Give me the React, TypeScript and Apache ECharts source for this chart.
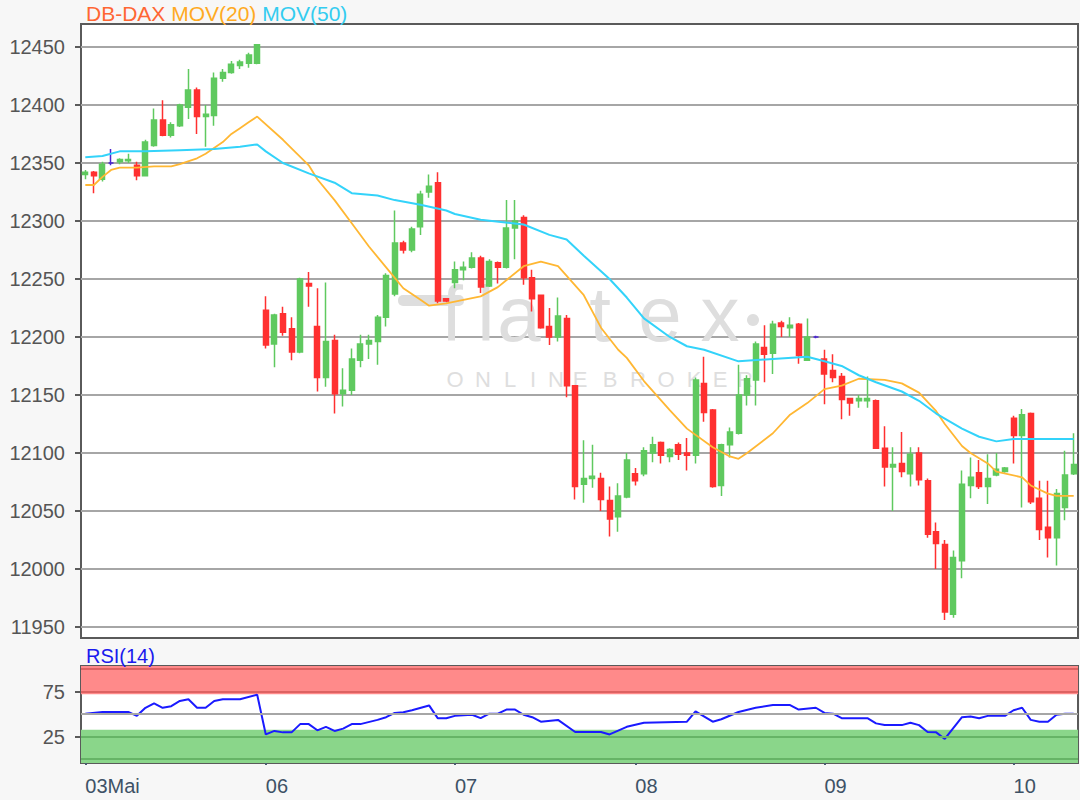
import React, { useEffect, useRef } from 'react';
import * as echarts from 'echarts';

// ---- categories (days, candles per day) ----
const dayLabels = ['03Mai', '06', '07', '08', '09', '10'];
const dayCounts = [21, 22, 21, 22, 22, 8];

// ---- OHLC ----
const opens = [
  12340, 12342, 12336, 12350, 12351, 12352, 12348, 12339, 12365, 12387, 12374, 12382, 12398, 12413, 12390, 12391, 12423, 12428, 12434, 12436, 12436,
  12223, 12194, 12220, 12207, 12187, 12246, 12209, 12165, 12197, 12151, 12154, 12180, 12194, 12196, 12217, 12237, 12281, 12275, 12295, 12325, 12333, 12233,
  12247, 12258, 12260, 12268, 12244, 12264, 12260, 12294, 12303, 12251, 12236, 12209, 12200, 12216, 12158, 12073, 12078, 12078, 12059, 12045, 12062,
  12082, 12082, 12100, 12109, 12097, 12107, 12100, 12098, 12160, 12137, 12072, 12107, 12117, 12150, 12163, 12191, 12186, 12212, 12208, 12211, 12180, 12200,
  12181, 12171, 12166, 12147, 12145, 12145, 12145, 12104, 12088, 12091, 12082, 12100, 12076, 12032, 12021, 11961, 12007, 12072, 12083, 12071, 12081, 12084,
  12130, 12115, 12134, 12061, 12036, 12027, 12053, 12082,
];
const closes = [
  12342, 12339, 12349, 12350, 12353, 12353, 12339, 12368, 12387, 12374, 12383, 12400, 12413, 12390, 12392, 12423, 12428, 12435, 12437, 12443, 12452,
  12193, 12219, 12204, 12187, 12250, 12244, 12165, 12196, 12151, 12154, 12181, 12194, 12197, 12217, 12253, 12281, 12275, 12293, 12323, 12330, 12231, 12231,
  12258, 12260, 12268, 12243, 12265, 12260, 12294, 12300, 12251, 12233, 12208, 12200, 12218, 12158, 12071, 12078, 12080, 12060, 12043, 12063, 12094,
  12076, 12102, 12107, 12098, 12103, 12099, 12098, 12163, 12135, 12071, 12107, 12118, 12150, 12164, 12194, 12185, 12211, 12209, 12210, 12184, 12200, 12200,
  12168, 12165, 12146, 12143, 12147, 12147, 12104, 12088, 12090, 12084, 12099, 12077, 12030, 12022, 11963, 12010, 12073, 12079, 12071, 12078, 12086, 12087,
  12115, 12133, 12058, 12034, 12027, 12065, 12081, 12090,
];
const lows = [
  12336, 12324, 12334, 12348, 12349, 12350, 12335, 12339, 12364, 12373, 12372, 12381, 12388, 12375, 12364, 12382, 12420, 12427, 12431, 12432, 12435,
  12190, 12174, 12201, 12180, 12186, 12226, 12153, 12157, 12134, 12140, 12150, 12174, 12181, 12176, 12209, 12235, 12272, 12273, 12288, 12320, 12229, 12230,
  12242, 12249, 12259, 12238, 12243, 12246, 12259, 12267, 12245, 12222, 12207, 12193, 12196, 12148, 12060, 12057, 12070, 12050, 12028, 12032, 12061,
  12072, 12080, 12092, 12091, 12092, 12094, 12085, 12091, 12127, 12070, 12063, 12096, 12116, 12141, 12141, 12161, 12168, 12200, 12200, 12177, 12180, 12199,
  12142, 12161, 12129, 12132, 12139, 12139, 12104, 12071, 12050, 12079, 12071, 12072, 12027, 12000, 11956, 11958, 11992, 12061, 12069, 12056, 12080, 12083,
  12091, 12053, 12056, 12025, 12010, 12003, 12042, 12081,
];
const highs = [
  12344, 12343, 12351, 12362, 12354, 12358, 12351, 12370, 12397, 12404, 12385, 12401, 12431, 12415, 12400, 12428, 12431, 12438, 12439, 12445, 12452,
  12235, 12220, 12226, 12217, 12251, 12256, 12242, 12247, 12202, 12173, 12190, 12202, 12202, 12219, 12255, 12309, 12283, 12295, 12326, 12340, 12342, 12233,
  12265, 12265, 12273, 12270, 12267, 12265, 12318, 12318, 12305, 12258, 12236, 12225, 12234, 12219, 12158, 12111, 12107, 12083, 12071, 12074, 12100,
  12087, 12105, 12114, 12110, 12104, 12109, 12113, 12165, 12183, 12138, 12108, 12122, 12176, 12167, 12196, 12210, 12214, 12214, 12217, 12212, 12216, 12201,
  12189, 12185, 12169, 12147, 12150, 12166, 12146, 12123, 12105, 12118, 12105, 12105, 12078, 12040, 12025, 12016, 12085, 12096, 12094, 12099, 12100, 12088,
  12132, 12138, 12135, 12076, 12076, 12069, 12102, 12117,
];

// ---- moving averages [candle index, value] ----
const ma20 = [
  [0, 12331], [1, 12331], [2, 12338], [3, 12344], [4, 12346], [6, 12346], [8, 12347], [10, 12347], [11, 12349], [13, 12354],
  [14, 12358], [16, 12368], [17, 12375], [18, 12380], [19, 12385], [20, 12390], [23, 12370], [26, 12348], [27, 12336], [29, 12318],
  [31, 12298], [33, 12278], [35, 12260], [37, 12242], [39, 12232], [40, 12227], [42, 12229], [46, 12235], [48, 12243], [51, 12261],
  [53, 12265], [55, 12261], [58, 12236], [60, 12208], [62, 12189], [63, 12182], [65, 12162], [68, 12137], [70, 12121], [73, 12105],
  [75, 12097], [76, 12095], [77, 12100], [80, 12117], [82, 12133], [84, 12143], [86, 12155], [88, 12158], [90, 12164], [93, 12163],
  [95, 12160], [97, 12152], [99, 12136], [100, 12125], [102, 12106], [103, 12100], [105, 12091], [106, 12084], [109, 12079], [110, 12072],
  [112, 12065], [113, 12063], [115, 12063],
];
const ma50 = [
  [0, 12355], [2, 12356], [4, 12360], [7, 12360], [11, 12361], [15, 12362], [18, 12364], [20, 12366], [21, 12360], [23, 12350],
  [26, 12341], [29, 12333], [31, 12324], [34, 12322], [36, 12318], [39, 12314], [42, 12309], [43, 12306], [46, 12301], [51, 12297],
  [54, 12288], [56, 12284], [58, 12270], [61, 12250], [63, 12234], [65, 12216], [68, 12200], [70, 12192], [72, 12189], [76, 12179],
  [80, 12181], [84, 12183], [86, 12179], [88, 12175], [90, 12167], [92, 12161], [95, 12153], [97, 12145], [99, 12134], [102, 12121],
  [104, 12114], [106, 12110], [108, 12112], [115, 12112],
];

// ---- RSI(14) [candle index, value] ----
const rsi = [
  [0, 50.4], [2, 52.3], [5, 52.3], [6, 48], [7, 57], [8, 62], [9, 57], [10, 58.8], [11, 64.6], [12, 66.5], [13, 57], [14, 57],
  [15, 64.6], [16, 66.5], [18, 66.5], [20, 71.5], [21, 27.3], [22, 31.2], [23, 29.6], [24, 29.6], [25, 38.8], [26, 38.8],
  [27, 31.9], [28, 35.8], [29, 31.2], [30, 33.8], [31, 38.8], [32, 38.8], [34, 43.5], [35, 46.5], [36, 51.2], [37, 51.9],
  [38, 54.2], [40, 59.6], [41, 45.4], [42, 45.4], [43, 48], [45, 49.2], [46, 45.4], [47, 50.4], [48, 50.4], [49, 55], [50, 55],
  [51, 49.2], [52, 46.5], [53, 41.5], [55, 43.5], [57, 30], [60, 30], [61, 27.3], [63, 35.8], [65, 40.4], [70, 41.5], [71, 53],
  [73, 41.5], [74, 44.2], [76, 52.3], [78, 57], [80, 60], [82, 60], [83, 55], [85, 57], [86, 51.2], [87, 50.4], [88, 45.4],
  [91, 45.4], [92, 39.6], [93, 37.7], [95, 37.7], [96, 40.4], [97, 37.7], [98, 30], [99, 29.6], [100, 22.3], [102, 46.5],
  [103, 47.3], [104, 45.4], [105, 48], [107, 48], [108, 54.2], [109, 57], [110, 43.5], [111, 41.5], [112, 41.5], [113, 49.2],
  [114, 50.4], [115, 50.4],
];

// ---- tick labels ----
const priceTicks = [11950, 12000, 12050, 12100, 12150, 12200, 12250, 12300, 12350, 12400, 12450];
const rsiTicks = [25, 75];

const FONT = '"Liberation Sans", Arial, sans-serif';
const UP = '#5fc95f';
const DOWN = '#ff3030';
const DOJI = '#4a25d0';
const WM = '#dedede';

const categories: string[] = [];
dayLabels.forEach((d, i) => {
  for (let k = 0; k < dayCounts[i]; k++) categories.push(`${d}|${k}`);
});
const isDayStart = (_i: number, v: string) => v.endsWith('|0');

const candleData = opens.map((o, i) => {
  const v = [o, closes[i], lows[i], highs[i]];
  if (o === closes[i]) {
    return { value: v, itemStyle: { color: DOJI, color0: DOJI, borderColor: DOJI, borderColor0: DOJI, borderColorDoji: DOJI } };
  }
  return v;
});

const flatexLetters: [string, number][] = [['f', 452], ['l', 486], ['a', 519], ['t', 600], ['e', 660], ['x', 720]];
const brokerLetters: [string, number][] = [
  ['O', 455], ['N', 483], ['L', 510], ['I', 533], ['N', 556], ['E', 580],
  ['B', 610], ['R', 638], ['O', 666], ['K', 694], ['E', 720], ['R', 745],
];

const option: any = {
  animation: false,
  backgroundColor: '#f7f7f7',
  textStyle: { fontFamily: FONT },
  title: [
    {
      left: 81,
      top: -2,
      text: '{a|DB-DAX} {b|MOV(20)} {c|MOV(50)}',
      textStyle: {
        fontSize: 21,
        fontWeight: 'normal',
        fontFamily: FONT,
        rich: {
          a: { color: '#ff6633', fontSize: 21, fontFamily: FONT },
          b: { color: '#ffaa22', fontSize: 21, fontFamily: FONT },
          c: { color: '#33ccf0', fontSize: 21, fontFamily: FONT },
        },
      },
    },
    {
      left: 81,
      top: 641,
      text: 'RSI(14)',
      textStyle: { color: '#1a1aee', fontSize: 20, fontWeight: 'normal', fontFamily: FONT },
    },
  ],
  graphic: [
    { type: 'rect', z: 1, silent: true, shape: { x: 398, y: 295, width: 66, height: 11, r: 5 }, style: { fill: WM } },
    ...flatexLetters.map(([ch, x]) => ({
      type: 'text', z: 1, silent: true, x, y: 314,
      style: { text: ch, fill: WM, font: `78px ${FONT}`, align: 'center', verticalAlign: 'middle' },
    })),
    { type: 'circle', z: 1, silent: true, shape: { cx: 753, cy: 320, r: 6 }, style: { fill: WM } },
    ...brokerLetters.map(([ch, x]) => ({
      type: 'text', z: 1, silent: true, x, y: 379,
      style: { text: ch, fill: WM, font: `22px ${FONT}`, align: 'center', verticalAlign: 'middle' },
    })),
  ],
  grid: [
    { left: 81, top: 24, width: 997, height: 614, show: true, backgroundColor: '#ffffff', borderColor: '#5a5a5a', borderWidth: 2 },
    { left: 81, top: 666, width: 997, height: 97, show: true, backgroundColor: '#ffffff', borderColor: '#5a5a5a', borderWidth: 2 },
  ],
  xAxis: [
    {
      type: 'category', gridIndex: 0, data: categories, boundaryGap: true,
      axisLine: { show: false }, axisTick: { show: false }, axisLabel: { show: false }, splitLine: { show: false },
    },
    {
      type: 'category', gridIndex: 1, data: categories, boundaryGap: true,
      axisLine: { show: false },
      axisTick: { show: true, alignWithLabel: true, interval: isDayStart, length: 6, lineStyle: { color: '#4a5d70', width: 2 } },
      axisLabel: {
        interval: isDayStart, formatter: (v: string) => v.split('|')[0], align: 'left',
        color: '#3e5266', fontSize: 20, margin: 13, fontFamily: FONT,
      },
      splitLine: { show: false },
    },
  ],
  yAxis: [
    {
      type: 'value', gridIndex: 0, min: 11940.5, max: 12469.8, splitNumber: 11, minInterval: 50, maxInterval: 50,
      axisLine: { show: false },
      axisTick: { show: true, length: 6, customValues: priceTicks, lineStyle: { color: '#5a5a5a', width: 2 } },
      axisLabel: {
        customValues: priceTicks, formatter: (v: number) => String(Math.round(v)),
        color: '#555555', fontSize: 20, margin: 16, fontFamily: FONT,
      },
      splitLine: { show: true, lineStyle: { color: '#a6a6a6', width: 2 } },
    },
    {
      type: 'value', gridIndex: 1, min: -4.5, max: 103.5,
      axisLine: { show: false },
      axisTick: { show: true, length: 6, customValues: rsiTicks, lineStyle: { color: '#5a5a5a', width: 2 } },
      axisLabel: { customValues: rsiTicks, formatter: (v: number) => String(Math.round(v)), color: '#555555', fontSize: 20, margin: 16, fontFamily: FONT },
      splitLine: { show: false },
    },
  ],
  series: [
    {
      type: 'candlestick', xAxisIndex: 0, yAxisIndex: 0, barWidth: 5.5,
      data: candleData,
      itemStyle: { color: UP, color0: DOWN, borderColor: UP, borderColor0: DOWN, borderWidth: 1.5 },
    },
    {
      type: 'line', name: 'MOV(20)', xAxisIndex: 0, yAxisIndex: 0, data: ma20, showSymbol: false, symbol: 'none',
      lineStyle: { color: '#ffb733', width: 1.8 }, z: 3,
    },
    {
      type: 'line', name: 'MOV(50)', xAxisIndex: 0, yAxisIndex: 0, data: ma50, showSymbol: false, symbol: 'none',
      lineStyle: { color: '#33d3fa', width: 2 }, z: 3,
    },
    {
      type: 'line', name: 'RSI', xAxisIndex: 1, yAxisIndex: 1, data: rsi, showSymbol: false, symbol: 'none',
      lineStyle: { color: '#1a1aff', width: 2 }, z: 4,
      markArea: {
        silent: true,
        data: [
          [{ yAxis: 72, itemStyle: { color: '#ff8a8a' } }, { yAxis: 103.5 }],
          [{ yAxis: -4.5, itemStyle: { color: '#8ad68a' } }, { yAxis: 32.5 }],
        ],
      },
      markLine: {
        silent: true, symbol: ['none', 'none'], label: { show: false },
        data: [
          { yAxis: 100, lineStyle: { color: '#dd6262', width: 2, type: 'solid' } },
          { yAxis: 75, lineStyle: { color: '#dd6262', width: 2, type: 'solid' } },
          { yAxis: 50, lineStyle: { color: '#a6a6a6', width: 2, type: 'solid' } },
          { yAxis: 25, lineStyle: { color: '#66b466', width: 2, type: 'solid' } },
          { yAxis: 0, lineStyle: { color: '#66b466', width: 2, type: 'solid' } },
        ],
      },
    },
  ],
};

export default function App() {
  const ref = useRef<HTMLDivElement>(null);
  useEffect(() => {
    document.body.style.margin = '0';
    document.body.style.background = '#f7f7f7';
    const chart = echarts.init(ref.current as HTMLDivElement, null, { renderer: 'svg' });
    chart.setOption(option);
    return () => chart.dispose();
  }, []);
  return <div ref={ref} style={{ width: 1080, height: 800 }} />;
}
